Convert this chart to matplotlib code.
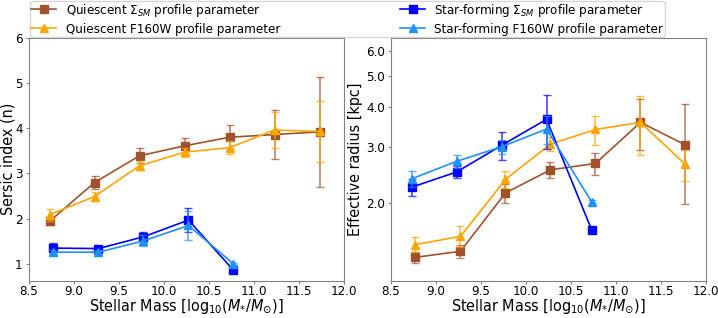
import matplotlib
matplotlib.use("Agg")
import matplotlib.pyplot as plt
import numpy as np
from matplotlib.ticker import FixedLocator, FormatStrFormatter, NullLocator

# ---- data ----
mass_q = [8.75, 9.25, 9.75, 10.25, 10.75, 11.25, 11.75]
mass_sf = [8.75, 9.25, 9.75, 10.25, 10.75]

# Sersic index
n_q_sm = [1.94, 2.80, 3.39, 3.61, 3.80, 3.86, 3.92]
n_q_sm_err = [0.07, 0.15, 0.17, 0.18, 0.26, 0.55, 1.22]
n_q_f160 = [2.09, 2.49, 3.17, 3.47, 3.57, 3.96, 3.93]
n_q_f160_err = [0.13, 0.10, 0.10, 0.10, 0.15, 0.40, 0.68]
n_sf_sm = [1.35, 1.34, 1.60, 1.97, 0.86]
n_sf_sm_err = [0.12, 0.05, 0.11, 0.27, 0.03]
n_sf_f160 = [1.26, 1.26, 1.51, 1.85, 1.00]
n_sf_f160_err = [0.05, 0.04, 0.12, 0.31, 0.03]

# Effective radius [kpc]
r_q_sm = [1.35, 1.41, 2.15, 2.54, 2.66, 3.58, 3.04]
r_q_sm_err = [0.05, 0.07, 0.15, 0.15, 0.21, 0.65, 1.05]
r_q_f160 = [1.48, 1.57, 2.37, 3.06, 3.40, 3.58, 2.64]
r_q_f160_err = [0.08, 0.12, 0.15, 0.15, 0.36, 0.75, 0.30]
r_sf_sm = [2.24, 2.50, 3.03, 3.66, 1.65]
r_sf_sm_err = [0.13, 0.11, 0.30, 0.70, 0.03]
r_sf_f160 = [2.38, 2.70, 3.00, 3.41, 2.02]
r_sf_f160_err = [0.13, 0.13, 0.15, 0.35, 0.02]

labels = [r"Quiescent $\Sigma_{SM}$ profile parameter",
          "Quiescent F160W profile parameter",
          r"Star-forming $\Sigma_{SM}$ profile parameter",
          "Star-forming F160W profile parameter"]
colors = ["sienna", "orange", "blue", "dodgerblue"]
markers = ["s", "^", "s", "^"]

rtick_vals = [2.0, 3.0, 4.0, 5.0, 6.0]

FS = 9.5
LFS = 11.5
plt.rcParams['font.size'] = FS
plt.rcParams['font.stretch'] = 'condensed'

fig = plt.figure(figsize=(7.18, 3.18), dpi=100)
ax1 = fig.add_axes([29/718, 1-280.7/318, 315/718, 243/318])
ax2 = fig.add_axes([391/718, 1-280.7/318, 315/718, 243/318])

def draw(ax, x, y, e, c, m, lab):
    ax.errorbar(x, y, yerr=e, fmt='none', ecolor=c, alpha=0.7, capsize=3, elinewidth=1.2, capthick=1.0)
    h, = ax.plot(x, y, color=c, marker=m, markersize=5.5, lw=1.2, label=lab)
    return h

off = 0.022
xq = np.array(mass_q); xs = np.array(mass_sf)
handles = []
handles.append(draw(ax1, xq - off, n_q_sm, n_q_sm_err, colors[0], markers[0], labels[0]))
handles.append(draw(ax1, xq - off, n_q_f160, n_q_f160_err, colors[1], markers[1], labels[1]))
handles.append(draw(ax1, xs + off, n_sf_sm, n_sf_sm_err, colors[2], markers[2], labels[2]))
handles.append(draw(ax1, xs + off, n_sf_f160, n_sf_f160_err, colors[3], markers[3], labels[3]))

draw(ax2, xq + off, r_q_sm, r_q_sm_err, colors[0], markers[0], labels[0])
draw(ax2, xq + off, r_q_f160, r_q_f160_err, colors[1], markers[1], labels[1])
draw(ax2, xs - off, r_sf_sm, r_sf_sm_err, colors[2], markers[2], labels[2])
draw(ax2, xs - off, r_sf_f160, r_sf_f160_err, colors[3], markers[3], labels[3])

for ax in (ax1, ax2):
    ax.set_xlim(8.5, 12.0)
    ax.set_xticks([8.5, 9.0, 9.5, 10.0, 10.5, 11.0, 11.5, 12.0])
    ax.xaxis.set_major_formatter(FormatStrFormatter('%.1f'))
    ax.set_xlabel(r"Stellar Mass [log$_{10}$($M_{*}$/$M_{\odot}$)]", fontsize=LFS, labelpad=0)
    for s in ax.spines.values():
        s.set_color('#808080')
    ax.tick_params(colors='#808080', labelcolor='black', labelsize=FS, length=2, width=0.8)
    ax.tick_params(axis='x', pad=0.8)
    ax.tick_params(axis='y', pad=2.5)

ax1.set_ylim(0.63, 6.0)
ax1.set_yticks([1, 2, 3, 4, 5, 6])
ax1.set_ylabel("Sersic index (n)", fontsize=LFS, va='center', ha='center')
ax1.yaxis.set_label_coords(-21/315, 0.5)

ax2.set_yscale('log')
ax2.set_ylim(1.14, 6.6)
ax2.yaxis.set_major_locator(FixedLocator(rtick_vals))
ax2.yaxis.set_major_formatter(FormatStrFormatter('%.1f'))
ax2.yaxis.set_minor_locator(NullLocator())
ax2.set_ylabel("Effective radius [kpc]", fontsize=LFS, labelpad=2)

fig.legend(handles=handles, ncol=2, loc='lower left',
           bbox_to_anchor=(30/718, 1-37/318), fontsize=FS,
           columnspacing=9.1, borderaxespad=0, handlelength=1.9,
           handletextpad=0.7, labelspacing=0.28, borderpad=0.1)

fig.savefig("out.png", dpi=100)
